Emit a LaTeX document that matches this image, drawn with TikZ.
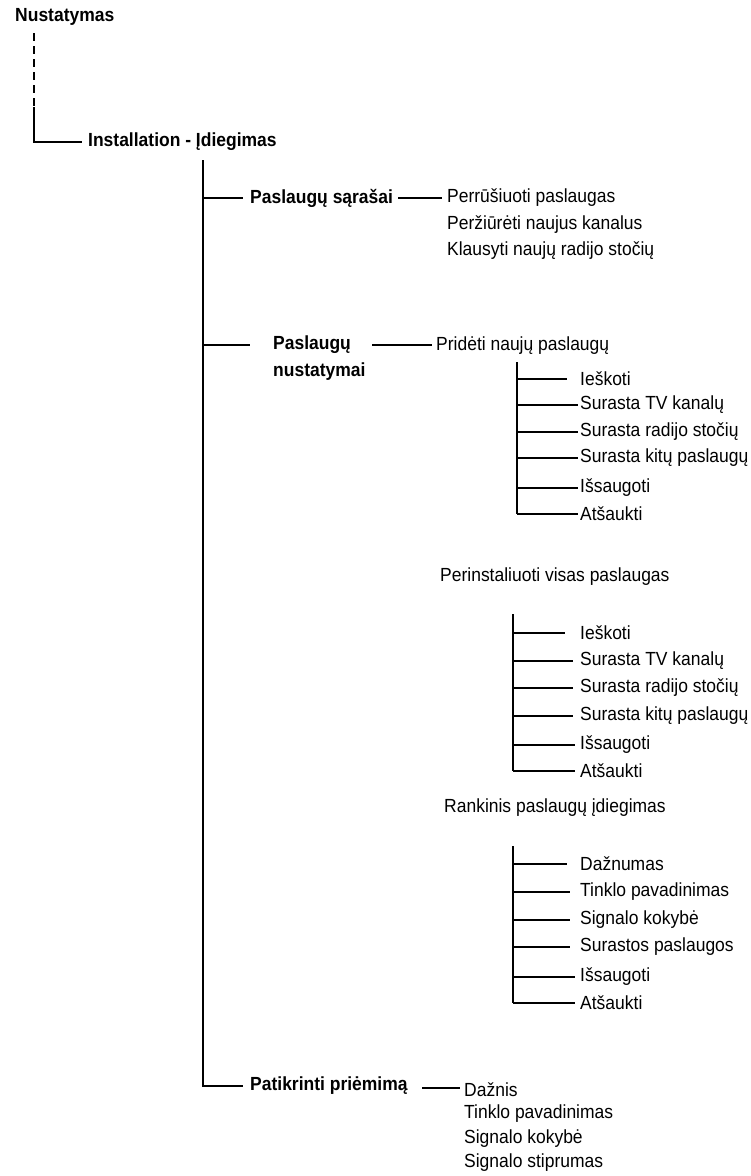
\documentclass[tikz,border=0pt]{standalone}
\usepackage{fontspec}
\setmainfont{Liberation Sans}[FakeStretch=0.92]
\begin{document}
\begin{tikzpicture}[x=1pt,y=-1pt]
\tikzset{titre/.style={font=\bfseries\fontsize{19}{27}\selectfont, anchor=west, inner sep=0pt},
	entree/.style={font=\fontsize{19}{27}\selectfont, anchor=west, inner sep=0pt},
	trait/.style={line width=2.8pt}};
\useasboundingbox (0,0) rectangle (751,1176);

% racine
\node[titre] (nust) at (15,17) {Nustatymas};
\node[titre] (inst) at (88,142) {Installation - Įdiegimas};
\coordinate (r0) at (34,33);
\coordinate (r1) at (34,107);
\draw[trait, dash pattern=on 8pt off 5pt] (r0) -- (r1);
\draw[trait] (r1) |- ([xshift=-6pt]inst.west);

% axe principal
\coordinate (m0) at (203,160);
\node[titre] (sar) at (250,198) {Paslaugų sąrašai};
\node[titre, align=left] (nus) at (273,358) {Paslaugų\\nustatymai};
\node[titre] (pat) at (250,1086) {Patikrinti priėmimą};
\draw[trait] (m0) |- ([xshift=-7pt]pat.west);
\draw[trait] (m0 |- sar.west) -- ([xshift=-7pt]sar.west);
\draw[trait] (m0 |- 0,345) coordinate (m1) -- ++(47,0);

% Paslaugu sarasai
\foreach \i/\y/\texte in {1/198/Perrūšiuoti paslaugas, 2/225/Peržiūrėti naujus kanalus, 3/251/Klausyti naujų radijo stočių}{
	\node[entree] (sar-\i) at (447,\y) {\texte};
}
\draw[trait] ([xshift=5pt]sar.east) -- ([xshift=-5pt]sar-1.west |- sar.east);

% Patikrinti priemima
\foreach \i/\y/\texte in {1/1090/Dažnis, 2/1114/Tinklo pavadinimas, 3/1139/Signalo kokybė, 4/1163/Signalo stiprumas}{
	\node[entree] (pat-\i) at (464,\y) {\texte};
}
\draw[trait] (422,1088) coordinate (p0) -- ([xshift=-4pt]pat-1.west |- p0);

% Paslaugu nustatymai
\node[entree] (A) at (436,346) {Pridėti naujų paslaugų};
\node[entree] (B) at (440,577) {Perinstaliuoti visas paslaugas};
\node[entree] (C) at (444,808) {Rankinis paslaugų įdiegimas};
\draw[trait] (372,345) coordinate (n0) -- ([xshift=-4pt]A.west |- n0);

\foreach \g/\x/\top/\liste in {
	A/517/362/{1/379/Ieškoti/13, 2/405/Surasta TV kanalų/2, 3/432/Surasta radijo stočių/2, 4/458/Surasta kitų paslaugų/2, 5/488/Išsaugoti/2, 6/514/Atšaukti/2},
	B/513/614/{1/633/Ieškoti/15, 2/661/Surasta TV kanalų/7, 3/688/Surasta radijo stočių/7, 4/716/Surasta kitų paslaugų/7, 5/745/Išsaugoti/5, 6/771/Atšaukti/5},
	C/513/846/{1/864/Dažnumas/13, 2/892/Tinklo pavadinimas/10, 3/920/Signalo kokybė/10, 4/947/Surastos paslaugos/10, 5/977/Išsaugoti/5, 6/1003/Atšaukti/5}}{
	\coordinate (\g-v) at (\x,\top);
	\foreach \i/\y/\texte/\ecart in \liste{
		\node[entree] (\g-\i) at (580,\y) {\texte};
		\draw[trait] (\g-v |- \g-\i.west) -- ([xshift=-\ecart pt]\g-\i.west);
	}
	\draw[trait] (\g-v) -- (\g-v |- \g-6.west);
}
\end{tikzpicture}
\end{document}
